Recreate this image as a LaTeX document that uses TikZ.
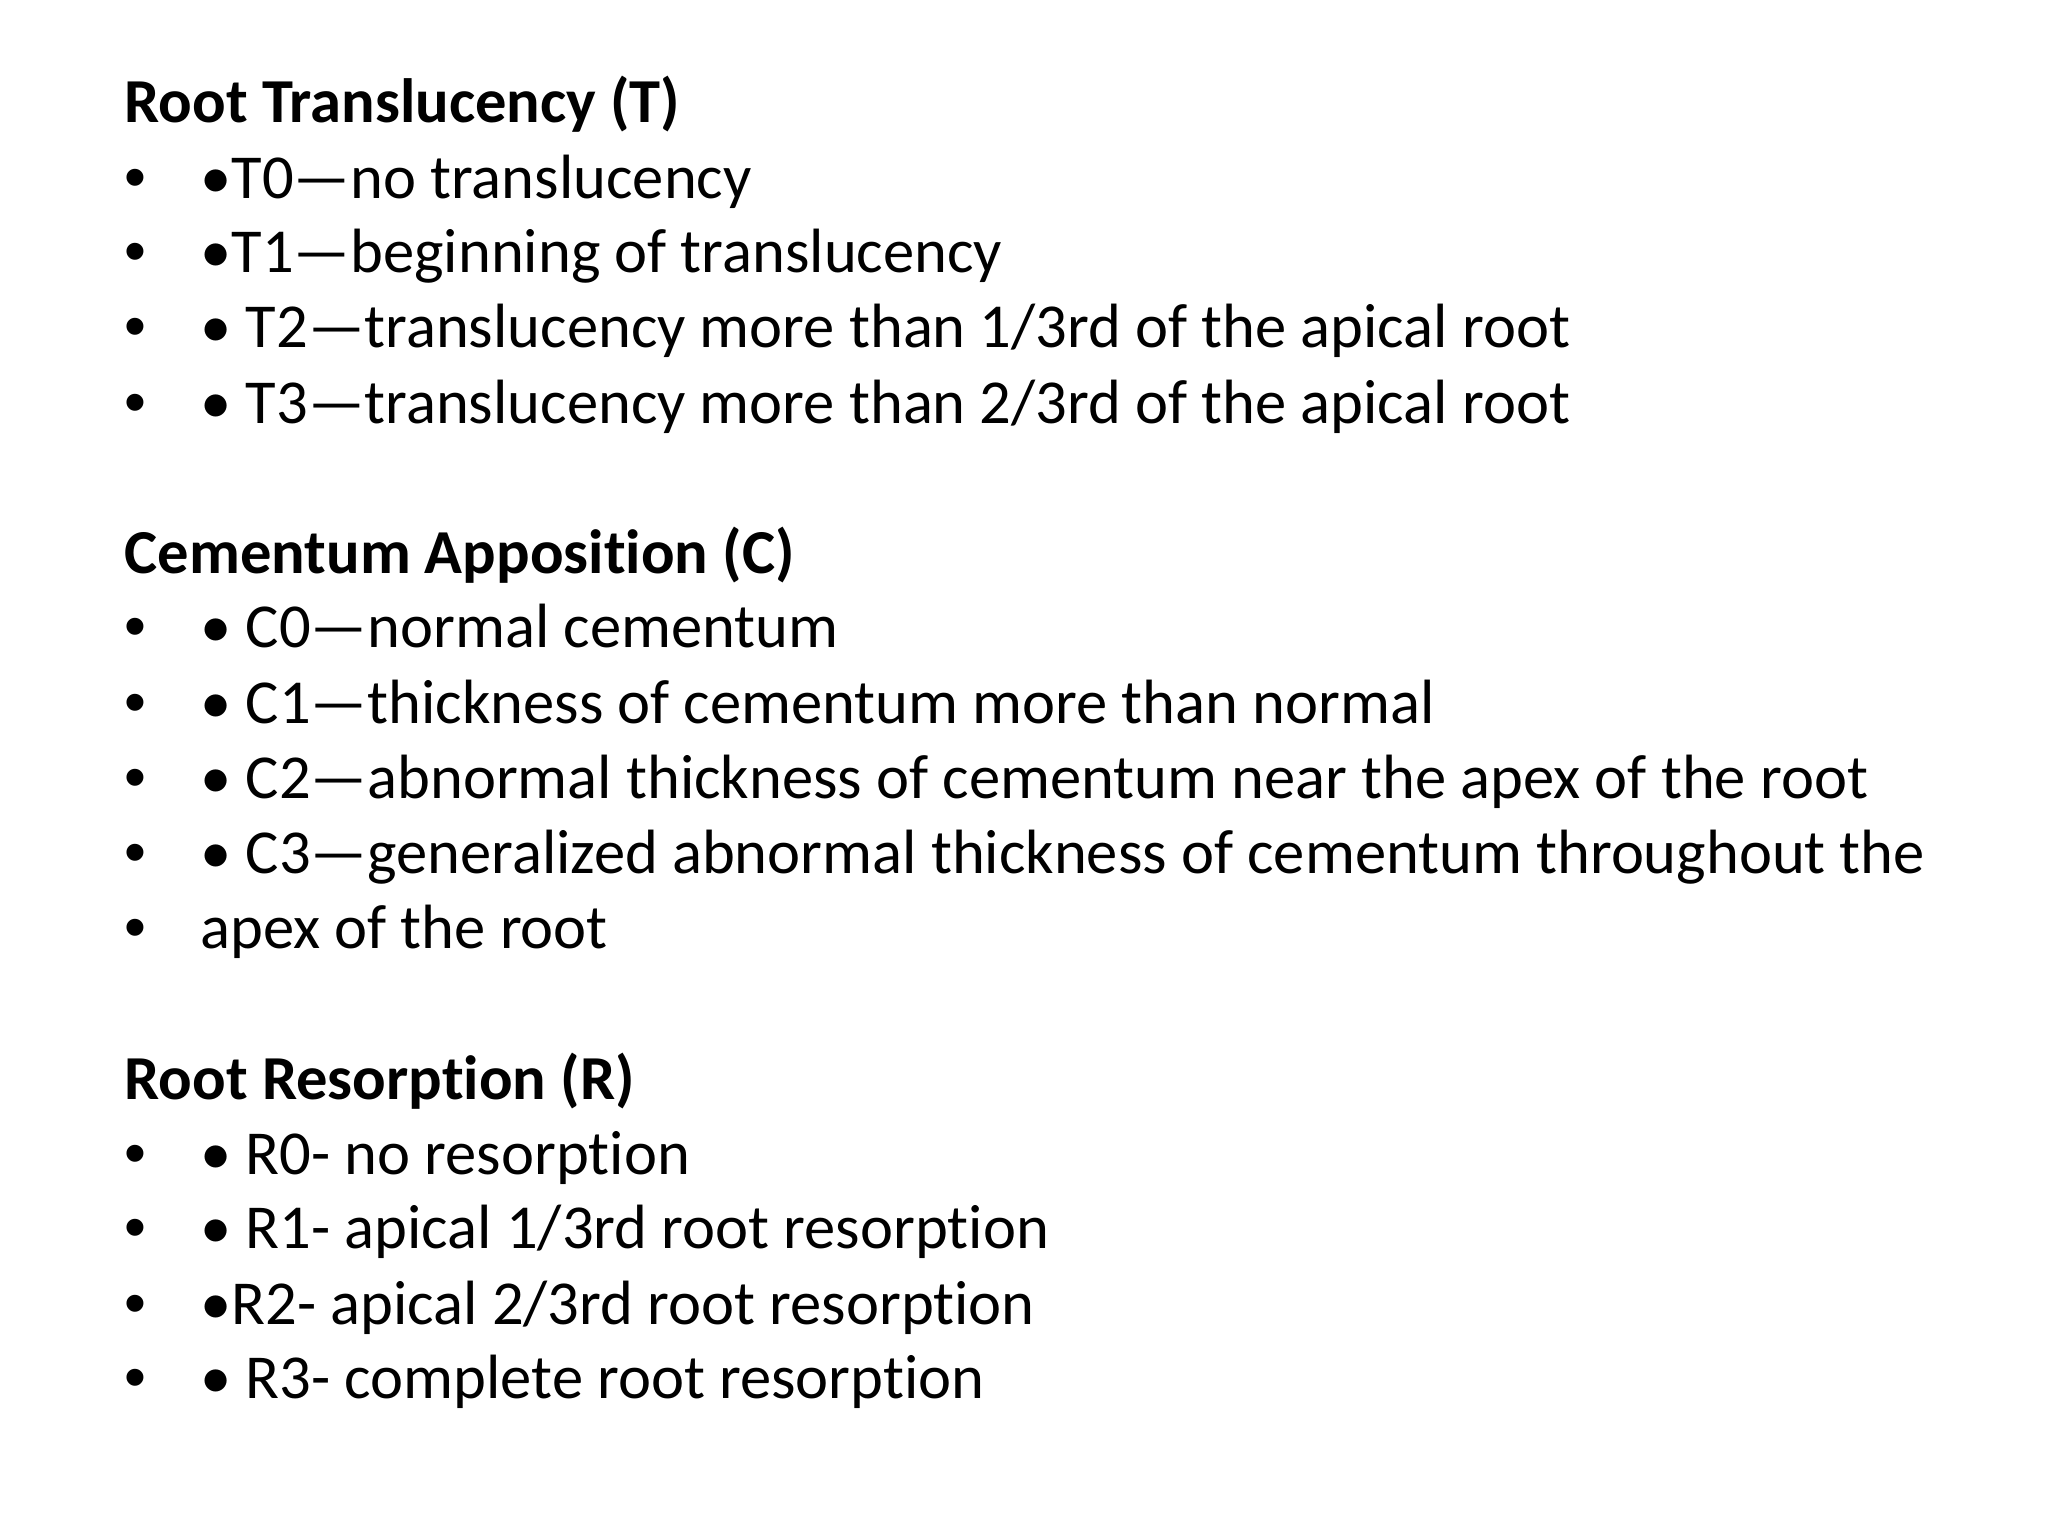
\documentclass[tikz,border=0pt]{standalone}
\usepackage{fontspec}
\setmainfont[Ligatures=NoCommon]{Carlito}
\newfontfamily\bulfont{Liberation Sans}
\begin{document}
\begin{tikzpicture}[x=0.01306cm,y=-0.01306cm,
  txt/.style={anchor=base west,inner sep=0pt,font=\fontsize{17.8}{21}\selectfont},
  hd/.style={txt,font=\fontsize{17.8}{21}\selectfont\bfseries}]
\useasboundingbox (0,0) rectangle (1568,1176);
\fill[white] (0,0) rectangle (1568,1176);
\newcommand{\itm}[3]{\node[txt] (b#1) at (95,#2) {\bulfont •}; \node[txt] (t#1) at (153,#2) {#3};}
\node[hd] (h1) at (95,94) {Root Translucency (T)};
\itm{1}{152}{•T0—no translucency}
\itm{2}{209}{•T1—beginning of translucency}
\itm{3}{266}{• T2—translucency more than 1/3rd of the apical root}
\itm{4}{324}{• T3—translucency more than 2/3rd of the apical root}
\node[hd] (h2) at (95,439) {Cementum Apposition (C)};
\itm{5}{496}{• C0—normal cementum}
\itm{6}{554}{• C1—thickness of cementum more than normal}
\itm{7}{611}{• C2—abnormal thickness of cementum near the apex of the root}
\itm{8}{669}{• C3—generalized abnormal thickness of cementum throughout the}
\itm{9}{726}{apex of the root}
\node[hd] (h3) at (95,842) {Root Resorption (R)};
\itm{10}{899}{• R0- no resorption}
\itm{11}{956}{• R1- apical 1/3rd root resorption}
\itm{12}{1014}{•R2- apical 2/3rd root resorption}
\itm{13}{1071}{• R3- complete root resorption}
\end{tikzpicture}
\end{document}
